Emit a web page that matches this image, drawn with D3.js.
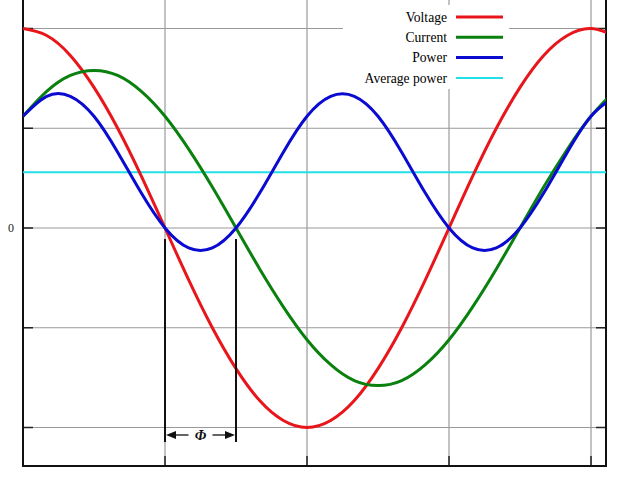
<!DOCTYPE html>
<html><head><meta charset="utf-8">
<script src="https://cdn.jsdelivr.net/npm/d3@7"></script>
<style>body{margin:0;background:#fff}svg{display:block}</style>
</head><body>
<svg id="c" width="621" height="480"></svg>
<script>
// phase angle in degrees
const angles = [0,15,30,45,60,75,90,105,120,135,150,165,180,195,210,225,240,255,270,285,300,315,330,345,360,375];
const voltage = [2.00,1.93,1.73,1.41,1.00,0.52,0,-0.52,-1.00,-1.41,-1.73,-1.93,-2.00,-1.93,-1.73,-1.41,-1.00,-0.52,0,0.52,1.00,1.41,1.73,1.93,2.00,1.93];
const current = [1.12,1.37,1.53,1.58,1.53,1.37,1.12,0.79,0.41,0,-0.41,-0.79,-1.12,-1.37,-1.53,-1.58,-1.53,-1.37,-1.12,-0.79,-0.41,0,0.41,0.79,1.12,1.37];
const power = [1.12,1.32,1.32,1.12,0.76,0.35,0,-0.20,-0.20,0,0.35,0.76,1.12,1.32,1.32,1.12,0.76,0.35,0,-0.20,-0.20,0,0.35,0.76,1.12,1.32];
const averagePower = 0.56;
const xTicks = [0,90,180,270,360];
const yTicks = [-2,-1,0,1,2];
const yTickLabels = {0:"0"};
const phiStart = 90, phiEnd = 135;
const seriesNames = ["Voltage","Current","Power","Average power"];
const seriesColors = ["#e8161a","#0a800f","#0a0ad0","#22e0e8"];

const svg = d3.select("#c");
const X0 = 23, X1 = 606, Y0 = -10, Y1 = 466;
const x = d3.scaleLinear().domain([0,369.5]).range([X0,X1]);
const y = d3.scaleLinear().domain([-2.386,2.386]).range([Y1,Y0]);

svg.append("defs").append("clipPath").attr("id","clip")
  .append("rect").attr("x",X0).attr("y",Y0).attr("width",X1-X0).attr("height",Y1-Y0);

// grid
const g = svg.append("g");
g.selectAll(".vg").data(xTicks).join("line")
  .attr("x1",d=>x(d)).attr("x2",d=>x(d)).attr("y1",Y0).attr("y2",Y1)
  .attr("stroke","#9a9a9a").attr("stroke-width",1.2);
g.selectAll(".hg").data(yTicks).join("line")
  .attr("x1",X0).attr("x2",X1).attr("y1",d=>y(d)).attr("y2",d=>y(d))
  .attr("stroke","#9a9a9a").attr("stroke-width",1.2);

// inward ticks
const tl = 10;
g.selectAll(".lt").data(yTicks).join("line")
  .attr("x1",X0).attr("x2",X0+tl).attr("y1",d=>y(d)).attr("y2",d=>y(d))
  .attr("stroke","#222").attr("stroke-width",1.5);
g.selectAll(".rt").data(yTicks).join("line")
  .attr("x1",X1-tl).attr("x2",X1).attr("y1",d=>y(d)).attr("y2",d=>y(d))
  .attr("stroke","#222").attr("stroke-width",1.5);
g.selectAll(".bt").data(xTicks).join("line")
  .attr("x1",d=>x(d)).attr("x2",d=>x(d)).attr("y1",Y1-tl).attr("y2",Y1)
  .attr("stroke","#222").attr("stroke-width",1.5);

// axis frame
svg.append("path").attr("d",`M${X0},${Y0}V${Y1}H${X1}V${Y0}`)
  .attr("fill","none").attr("stroke","#111").attr("stroke-width",2);

// y tick labels
svg.selectAll(".yl").data(yTicks.filter(d=>yTickLabels[d]!==undefined)).join("text")
  .attr("x",X0-12).attr("y",d=>y(d)).attr("dy","0.35em").attr("text-anchor","middle")
  .attr("font-family","Liberation Serif, serif").attr("font-size",12).attr("fill","#222")
  .text(d=>yTickLabels[d]);

// legend background
svg.append("rect").attr("x",343).attr("y",5).attr("width",166).attr("height",84).attr("fill","#fff");

// curves
const line = d3.line().x((d,i)=>x(angles[i])).y(d=>y(d)).curve(d3.curveNatural);
const cg = svg.append("g").attr("clip-path","url(#clip)");
cg.append("line").attr("x1",X0).attr("x2",X1).attr("y1",y(averagePower)).attr("y2",y(averagePower))
  .attr("stroke",seriesColors[3]).attr("stroke-width",2);
[voltage,current,power].forEach((s,i)=>{
  cg.append("path").attr("d",line(s)).attr("fill","none")
    .attr("stroke",seriesColors[i]).attr("stroke-width",3);
});

// legend
const lg = svg.append("g");
seriesNames.forEach((n,i)=>{
  const ly = 17 + i*20.3;
  lg.append("text").attr("x",447).attr("y",ly).attr("dy","0.35em").attr("text-anchor","end")
    .attr("font-family","Liberation Serif, serif").attr("font-size",13.6).attr("fill","#000").text(n);
  lg.append("line").attr("x1",456).attr("x2",503).attr("y1",ly).attr("y2",ly)
    .attr("stroke",seriesColors[i]).attr("stroke-width",i===3?2:3);
});

// phase annotation
const ag = svg.append("g");
const ay = 435;
[phiStart,phiEnd].forEach(a=>{
  ag.append("line").attr("x1",x(a)).attr("x2",x(a)).attr("y1",y(0)+11).attr("y2",442)
    .attr("stroke","#111").attr("stroke-width",2);
});
const xa = x(phiStart)+1, xb = x(phiEnd)-1, xm = (xa+xb)/2;
ag.append("line").attr("x1",xa+8).attr("x2",xm-12).attr("y1",ay).attr("y2",ay).attr("stroke","#111").attr("stroke-width",1.3);
ag.append("line").attr("x1",xm+12).attr("x2",xb-8).attr("y1",ay).attr("y2",ay).attr("stroke","#111").attr("stroke-width",1.3);
ag.append("path").attr("d",`M${xa},${ay}L${xa+10},${ay-4}L${xa+10},${ay+4}Z`).attr("fill","#111");
ag.append("path").attr("d",`M${xb},${ay}L${xb-10},${ay-4}L${xb-10},${ay+4}Z`).attr("fill","#111");
ag.append("text").attr("x",xm).attr("y",ay).attr("dy","0.35em").attr("text-anchor","middle")
  .attr("font-family","Liberation Serif, serif").attr("font-style","italic").attr("font-weight","bold")
  .attr("font-size",14.5).attr("fill","#111").text("Φ");
</script>
</body></html>
